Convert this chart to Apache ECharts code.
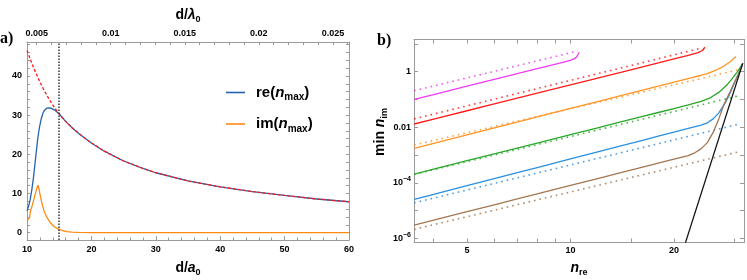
<!DOCTYPE html>
<html><head><meta charset="utf-8">
<script src="https://cdn.jsdelivr.net/npm/echarts@6/dist/echarts.min.js"></script>
<style>html,body{margin:0;padding:0;background:#fff}#c{width:747px;height:280px}</style>
</head><body><div id="c"></div><script>
// ---------- panel a) data ----------
const reD   = [10,10.25,10.5,10.75,11,11.2,11.4,11.6,11.8,11.95,12.2,12.5,12.7,12.9,13.1,13.35,13.6,13.9,14.4,15,16,17,18,19,20,22,25,28,30,35,40,45,50,55,60];
const reVal = [5.6,6.8,8.5,11,14,17,20,23,25.5,27,29,30.6,31.2,31.6,31.8,31.9,31.85,31.7,31.2,30.3,28.4,26.8,25.4,24.1,22.9,20.8,18.3,16.4,15.3,13.2,11.7,10.5,9.5,8.6,7.9];
const imD   = [10,10.2,10.41,10.51,10.75,11.03,11.35,11.55,11.7,11.85,12.0,12.32,12.7,13.1,13.6,14.13,14.6,15,15.6,16.2,17,18,20,25,30,40,50,60];
const imVal = [3.05,3.5,3.9,5.35,6.6,8.3,10.3,11.4,12.1,11.3,10.0,7.5,5.3,3.9,2.6,1.7,1.15,0.85,0.5,0.27,0.15,0.08,0.04,0.01,0,0,0,0];
const asymD   = [10,10.5,11,11.5,12,12.5,13,13.5,14,14.5,15,16,17,18,19,20,22,25,28,30,35,40,45,50,55,60];
const asymVal = [46.5,44.3,42.2,40.3,38.5,36.8,35.3,33.9,32.6,31.4,30.3,28.4,26.8,25.4,24.1,22.9,20.8,18.3,16.4,15.3,13.2,11.7,10.5,9.5,8.6,7.9];
const markD = 15;
const yLabelsA = [0,10,20,30,40];
const yTicksA = [0,2,4,6,8,10,12,14,16,18,20,22,24,26,28,30,32,34,36,38,40,42,44,46,48];
const topLabelsA = [0.005,0.01,0.015,0.02,0.025];
const topTicksA = [0.005,0.006,0.007,0.008,0.009,0.01,0.011,0.012,0.013,0.014,0.015,0.016,0.017,0.018,0.019,0.02,0.021,0.022,0.023,0.024,0.025,0.026];
const lambdaOverA = 2300;

// ---------- panel b) data ----------
const magSolidN = [3.51,4,5,6,7,8,9,10,10.3,10.45,10.6];
const magSolidV = [0.10,0.15,0.30,0.527,0.85,1.285,1.85,2.57,3.0,3.6,5.0];
const magDotN = [3.51,4,5,6,7,8,9,10,10.5];
const magDotV = [0.207,0.307,0.598,1.03,1.64,2.45,3.49,4.79,5.56];
const redSolidN = [3.51,4,5,6,7,8,10,12,14,16,18,20,22,23.5,24.2,24.6];
const redSolidV = [0.0131,0.01965,0.0393,0.0691,0.1113,0.1684,0.3364,0.592,0.954,1.444,2.08,2.88,3.88,4.85,5.8,7.6];
const redDotN = [3.51,4,5,6,7,8,10,12,14,16,18,20,22,24.1];
const redDotV = [0.020,0.0298,0.0589,0.1026,0.1642,0.2468,0.4875,0.850,1.36,2.04,2.93,4.04,5.40,7.13];
const orSolidN = [3.51,4,5,6,7,8,10,12,14,16,18,20,22,24,25,26.5,27.7,29,30.3];
const orSolidV = [0.00175,0.00264,0.00534,0.00947,0.0154,0.0235,0.0474,0.0841,0.1366,0.208,0.3016,0.420,0.567,0.746,0.86,1.15,1.5,2.2,3.5];
const orDotN = [3.51,4,5,6,7,8,10,12,14,16,18,20,24,28,31.2];
const orDotV = [0.0023,0.003346,0.00635,0.01072,0.01668,0.02446,0.04642,0.0783,0.1219,0.1788,0.2508,0.3393,0.573,0.892,1.216];
const grSolidN = [3.51,4,5,6,7,8,10,12,14,16,18,20,22,24,25.5,27,28.5,29.5,30.5,31.2,31.7];
const grSolidV = [2.07e-4,3.11e-4,6.25e-4,1.103e-3,1.784e-3,2.706e-3,5.43e-3,9.59e-3,0.0155,0.02353,0.03398,0.04717,0.0635,0.085,0.115,0.18,0.33,0.55,0.95,1.45,2.0];
const grDotN = [3.51,4,5,6,7,8,10,12,14,16,18,20,24,28,31];
const grDotV = [2.0e-4,2.96e-4,5.78e-4,9.99e-4,1.59e-3,2.37e-3,4.62e-3,8.0e-3,0.0127,0.0189,0.027,0.037,0.0639,0.1016,0.1378];
const bluSolidN = [3.51,4,5,6,7,8,10,12,14,16,18,20,22,24,25,26,27,28,29,30,31,31.7];
const bluSolidV = [2.54e-5,3.86e-5,7.88e-5,1.413e-4,2.313e-4,3.547e-4,7.24e-4,1.298e-3,2.125e-3,3.26e-3,4.75e-3,6.65e-3,9.03e-3,0.01193,0.0145,0.02,0.033,0.065,0.15,0.4,1.0,2.0];
const bluDotN = [3.51,4,5,6,7,8,10,12,14,16,18,20,24,28,31];
const bluDotV = [1.9e-5,2.81e-5,5.49e-5,9.49e-5,1.51e-4,2.25e-4,4.39e-4,7.6e-4,1.2e-3,1.8e-3,2.56e-3,3.5e-3,6.1e-3,9.6e-3,0.0131];
const brSolidN = [3.51,4,5,6,7,8,10,12,14,16,18,20,22,23,24,25,26,27,28,29,30,31,31.7];
const brSolidV = [3.0e-6,4.52e-6,9.11e-6,1.616e-5,2.62e-5,3.99e-5,8.03e-5,1.424e-4,2.31e-4,3.51e-4,5.09e-4,7.08e-4,9.55e-4,1.2e-3,1.7e-3,2.8e-3,6.5e-3,0.02,0.07,0.17,0.42,1.0,2.0];
const brDotN = [3.51,4,5,6,7,8,10,12,14,16,18,20,24,28,31];
const brDotV = [2.1e-6,3.1e-6,6.0e-6,1.03e-5,1.63e-5,2.42e-5,4.68e-5,8.0e-5,1.27e-4,1.87e-4,2.65e-4,3.62e-4,6.2e-4,9.8e-4,1.33e-3];
const blackN = [21.6,31.7];
const blackV = [7e-7,2.0];
const xLabelsB = [5,10,20];
const xTicksB = [4,5,6,7,8,9,10,15,20,30];
const yLabelsB = [-6,-4,-2,0];   // decades
const yTicksB = [-6,-5,-4,-3,-2,-1,0,1];

// ---------- helpers ----------
const LG = Math.log10;
const pair = (xs, ys) => xs.map((x, i) => [x, ys[i]]);
const logPair = (ns, vs) => ns.map((n, i) => [LG(n), LG(vs[i])]);

const FRAME = '#9a9a9a';
const FONT = 'Liberation Sans';
const tickLab = {fontFamily: FONT, fontWeight: 'bold', fontSize: 9, color: '#000'};
const nameStyle = (extra) => Object.assign({
  fontFamily: FONT, fontWeight: 'bold', fontSize: 14, color: '#000',
  rich: {
    r: {fontFamily: FONT, fontWeight: 'bold', fontSize: 14, lineHeight: 18, color: '#000'},
    i: {fontFamily: FONT, fontWeight: 'bold', fontStyle: 'italic', fontSize: 14, lineHeight: 18, color: '#000'},
    s: {fontFamily: FONT, fontWeight: 'bold', fontSize: 9, lineHeight: 9, verticalAlign: 'bottom', color: '#000'}
  }
}, extra || {});

const line = {show: true, onZero: false, lineStyle: {color: FRAME, width: 1}};
const tick = (vals, len) => ({show: true, inside: true, length: len, customValues: vals, lineStyle: {color: FRAME, width: 1}});

const chart = echarts.init(document.getElementById('c'), null, {renderer: 'canvas'});

const option = {
  animation: false,
  backgroundColor: '#fff',
  grid: [
    {left: 27, right: 398, top: 42, bottom: 40, outerBoundsMode: 'none', containLabel: false},
    {left: 414, right: 3, top: 39.5, bottom: 37.5, outerBoundsMode: 'none', containLabel: false}
  ],
  xAxis: [
    {gridIndex: 0, type: 'value', position: 'bottom', min: 10, max: 60, interval: 10,
     axisLine: line, splitLine: {show: false},
     axisTick: {show: true, inside: true, length: 4, lineStyle: {color: FRAME}},
     minorTick: {show: true, splitNumber: 5, length: 2.5, lineStyle: {color: FRAME}},
     axisLabel: Object.assign({margin: 5}, tickLab),
     name: '{r|d/}{i|a}{s|0}', nameLocation: 'middle', nameGap: 19, nameTextStyle: nameStyle()},
    {gridIndex: 0, type: 'value', position: 'top', min: 10 / lambdaOverA, max: 60 / lambdaOverA,
     axisLine: line, splitLine: {show: false},
     axisTick: tick(topTicksA, 3),
     axisLabel: Object.assign({margin: 4, customValues: topLabelsA, formatter: v => String(parseFloat(v.toFixed(4)))}, tickLab),
     name: '{r|d/}{i|λ}{s|0}', nameLocation: 'middle', nameGap: 15, nameTextStyle: nameStyle()},
    {gridIndex: 1, type: 'value', position: 'bottom', min: 0.5448, max: 1.5047,
     axisLine: line, splitLine: {show: false},
     axisTick: tick(xTicksB.map(LG), 4),
     axisLabel: Object.assign({margin: 4, customValues: xLabelsB.map(LG), formatter: v => String(Math.round(Math.pow(10, v)))}, tickLab),
     name: '{i|n}{s|re}', nameLocation: 'middle', nameGap: 17, nameTextStyle: nameStyle()},
    {gridIndex: 1, type: 'value', position: 'top', min: 0.5448, max: 1.5047,
     axisLine: line, splitLine: {show: false},
     axisTick: tick(xTicksB.map(LG), 4),
     axisLabel: {show: false}}
  ],
  yAxis: [
    {gridIndex: 0, type: 'value', position: 'left', min: -1.86, max: 48.66,
     axisLine: line, splitLine: {show: false},
     axisTick: tick(yTicksA, 3),
     axisLabel: Object.assign({margin: 5, customValues: yLabelsA}, tickLab)},
    {gridIndex: 0, type: 'value', position: 'right', min: -1.86, max: 48.66,
     axisLine: line, splitLine: {show: false},
     axisTick: tick(yTicksA, 3),
     axisLabel: {show: false}},
    {gridIndex: 1, type: 'value', position: 'left', min: -6.15, max: 1.16,
     axisLine: line, splitLine: {show: false},
     axisTick: tick(yTicksB, 4),
     axisLabel: Object.assign({margin: 3, customValues: yLabelsB,
       formatter: v => {
         const e = Math.round(v);
         if (e === 0) return '1';
         if (e === -2) return '0.01';
         return '{b|10}{p|\u2212' + (-e) + '}';
       },
       rich: {
         b: {fontFamily: FONT, fontWeight: 'bold', fontSize: 9, lineHeight: 14, color: '#000'},
         p: {fontFamily: FONT, fontWeight: 'bold', fontSize: 7, lineHeight: 7, verticalAlign: 'top', color: '#000'}
       }}, tickLab),
     name: '{r|min }{i|n}{s|im}', nameLocation: 'middle', nameGap: 15,
     nameTextStyle: nameStyle({padding: [0, 0, 0, 18]})},
    {gridIndex: 1, type: 'value', position: 'right', min: -6.15, max: 1.16,
     axisLine: line, splitLine: {show: false},
     axisTick: tick(yTicksB, 4),
     axisLabel: {show: false}}
  ],
  legend: {
    data: ['re(nmax)', 'im(nmax)'],
    orient: 'vertical', left: 221, top: 80, itemWidth: 19, itemHeight: 1.6, itemGap: 14,
    icon: 'rect',
    formatter: name => name === 're(nmax)' ? '{a|re(}{i|n}{s|max}{a|)}' : '{a|im(}{i|n}{s|max}{a|)}',
    textStyle: {
      rich: {
        a: {fontFamily: FONT, fontWeight: 'bold', fontSize: 15, lineHeight: 20, color: '#000'},
        i: {fontFamily: FONT, fontWeight: 'bold', fontStyle: 'italic', fontSize: 15, lineHeight: 20, color: '#000'},
        s: {fontFamily: FONT, fontWeight: 'bold', fontSize: 10, lineHeight: 10, verticalAlign: 'bottom', color: '#000'}
      },
      padding: [0, 0, 0, 6]
    }
  },
  graphic: [
    {type: 'text', left: 0, top: 31, style: {text: 'a)', font: 'bold 16px "Liberation Serif"', fill: '#000'}},
    {type: 'text', left: 377, top: 33, style: {text: 'b)', font: 'bold 16px "Liberation Serif"', fill: '#000'}}
  ],
  series: []
};

const lineS = (name, data, color, xi, yi, opts) => Object.assign({
  name, type: 'line', xAxisIndex: xi, yAxisIndex: yi, data, symbol: 'none',
  smooth: false, clip: true, silent: true,
  lineStyle: {color, width: 1.3}, itemStyle: {color}
}, opts || {});

const BLUE = '#2563ad', ORANGE = '#ff8a12', RED = '#ff1a1a';
option.series.push(lineS('re(nmax)', pair(reD, reVal), BLUE, 0, 0));
option.series.push(lineS('im(nmax)', pair(imD, imVal), ORANGE, 0, 0));
option.series.push(lineS('asym', pair(asymD, asymVal), RED, 0, 0, {
  lineStyle: {color: RED, width: 1.3, type: [3, 2]},
  markLine: {silent: true, symbol: ['none', 'none'], label: {show: false},
    lineStyle: {color: '#333', width: 1.5, type: [1.5, 1.5]}, data: [{xAxis: markD}]}
}));

const curvesB = [
  ['#f03cf0', magSolidN, magSolidV, magDotN, magDotV],
  [RED, redSolidN, redSolidV, redDotN, redDotV],
  ['#ff9424', orSolidN, orSolidV, orDotN, orDotV],
  ['#28a828', grSolidN, grSolidV, grDotN, grDotV],
  ['#2b8fe0', bluSolidN, bluSolidV, bluDotN, bluDotV],
  ['#a47650', brSolidN, brSolidV, brDotN, brDotV]
];
curvesB.forEach((c, k) => {
  option.series.push(lineS('b' + k + 's', logPair(c[1], c[2]), c[0], 2, 2));
  option.series.push(lineS('b' + k + 'd', logPair(c[3], c[4]), c[0], 2, 2,
    {lineStyle: {color: c[0], width: 1.6, type: [1.6, 4], opacity: 0.85}}));
});
option.series.push(lineS('black', logPair(blackN, blackV), '#111', 2, 2));

chart.setOption(option);
</script></body></html>
